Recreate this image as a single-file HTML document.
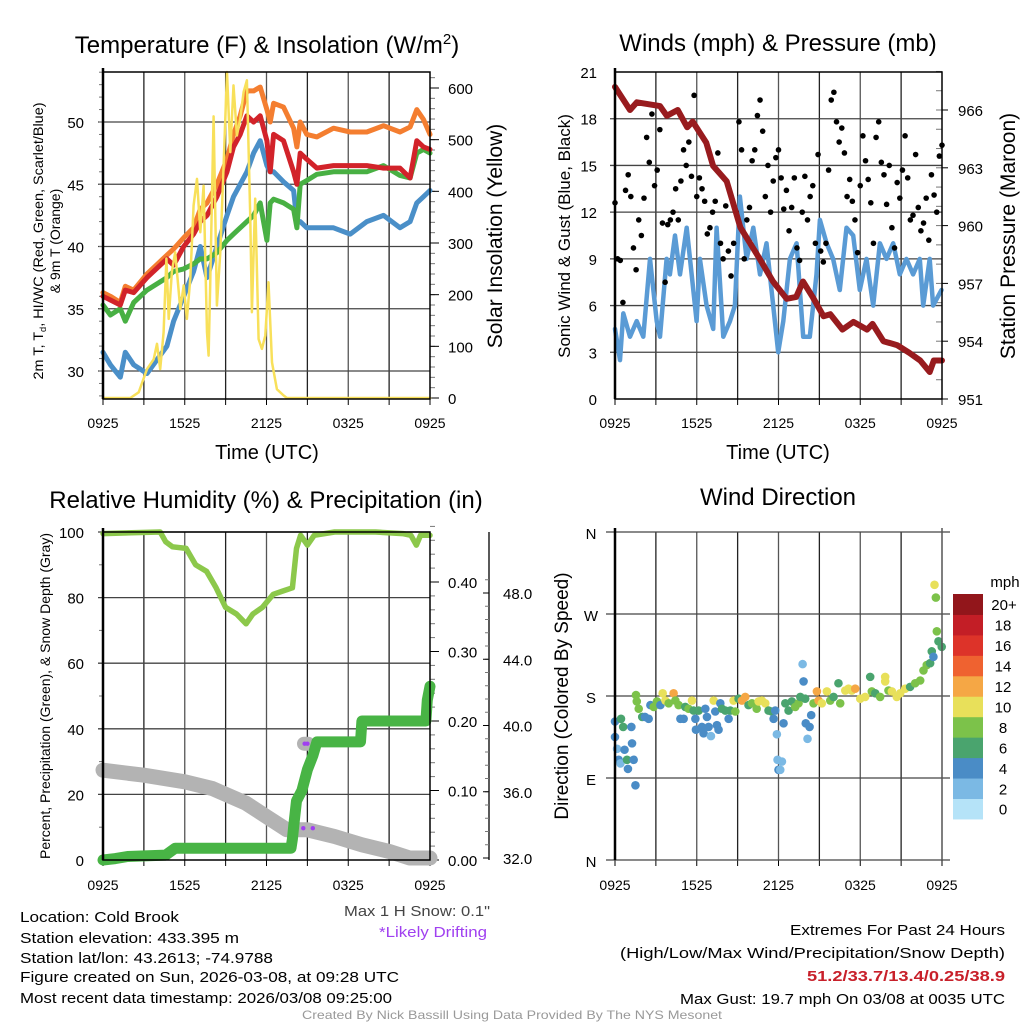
<!DOCTYPE html>
<html><head><meta charset="utf-8"><title>Cold Brook Meteogram</title>
<style>
html,body{margin:0;padding:0;background:#fff;width:1024px;height:1024px;overflow:hidden}
svg{display:block;font-family:"Liberation Sans",sans-serif}
</style></head>
<body>
<svg id="fig" width="1024" height="1024" viewBox="0 0 1024 1024" xmlns="http://www.w3.org/2000/svg">
<rect width="1024" height="1024" fill="#fff"/>
<text x="267" y="53" font-size="24" text-anchor="middle">Temperature (F) &amp; Insolation (W/m<tspan font-size="15" dy="-9">2</tspan><tspan dy="9">)</tspan></text>
<text x="778" y="51" font-size="24" text-anchor="middle">Winds (mph) &amp; Pressure (mb)</text>
<text x="266" y="508" font-size="24" text-anchor="middle">Relative Humidity (%) &amp; Precipitation (in)</text>
<text x="778" y="505" font-size="24" text-anchor="middle">Wind Direction</text>
<text transform="translate(43,241) rotate(-90)" font-size="14" text-anchor="middle" textLength="277" lengthAdjust="spacingAndGlyphs">2m T, T<tspan font-size="9" dy="3">d</tspan><tspan dy="-3">, HI/WC (Red, Green, Scarlet/Blue)</tspan></text>
<text transform="translate(60,241) rotate(-90)" font-size="14" text-anchor="middle">&amp; 9m T (Orange)</text>
<text transform="translate(502,236) rotate(-90)" font-size="21" text-anchor="middle">Solar Insolation (Yellow)</text>
<text x="267" y="459" font-size="20" text-anchor="middle">Time (UTC)</text>
<text x="778" y="459" font-size="20" text-anchor="middle">Time (UTC)</text>
<text transform="translate(570,236) rotate(-90)" font-size="17" text-anchor="middle">Sonic Wind &amp; Gust (Blue, Black)</text>
<text transform="translate(1015,236) rotate(-90)" font-size="21" text-anchor="middle">Station Pressure (Maroon)</text>
<text transform="translate(50,696) rotate(-90)" font-size="14" text-anchor="middle">Percent, Precipitation (Green), &amp; Snow Depth (Gray)</text>
<text transform="translate(568,696) rotate(-90)" font-size="19" text-anchor="middle">Direction (Colored By Speed)</text>
<g font-size="15">
<text x="20" y="922" textLength="159" lengthAdjust="spacingAndGlyphs">Location: Cold Brook</text>
<text x="20" y="943" textLength="219" lengthAdjust="spacingAndGlyphs">Station elevation: 433.395 m</text>
<text x="20" y="963" textLength="253" lengthAdjust="spacingAndGlyphs">Station lat/lon: 43.2613; -74.9788</text>
<text x="20" y="982" textLength="379" lengthAdjust="spacingAndGlyphs">Figure created on Sun, 2026-03-08, at 09:28 UTC</text>
<text x="20" y="1003" textLength="372" lengthAdjust="spacingAndGlyphs">Most recent data timestamp: 2026/03/08 09:25:00</text>
</g>
<text x="344" y="916" font-size="15" fill="#444" textLength="146" lengthAdjust="spacingAndGlyphs">Max 1 H Snow: 0.1"</text>
<text x="379" y="937" font-size="15" fill="#a040f0" textLength="108" lengthAdjust="spacingAndGlyphs">*Likely Drifting</text>
<g font-size="15" text-anchor="end">
<text x="1005" y="935" textLength="215" lengthAdjust="spacingAndGlyphs">Extremes For Past 24 Hours</text>
<text x="1005" y="958" textLength="385" lengthAdjust="spacingAndGlyphs">(High/Low/Max Wind/Precipitation/Snow Depth)</text>
<text x="1005" y="981" fill="#c8202a" font-weight="bold" textLength="198" lengthAdjust="spacingAndGlyphs">51.2/33.7/13.4/0.25/38.9</text>
<text x="1005" y="1004" textLength="325" lengthAdjust="spacingAndGlyphs">Max Gust: 19.7 mph On 03/08 at 0035 UTC</text>
</g>
<text x="512" y="1019" font-size="12" fill="#999" text-anchor="middle" textLength="420" lengthAdjust="spacingAndGlyphs">Created By Nick Bassill Using Data Provided By The NYS Mesonet</text>
<g id="plots"></g>
</svg>
<script>
const timeLabels = ["0925","1525","2125","0325","0925"];
const tempTimes = [0,.54,1.27,1.64,2.25,3.23,4.69,5.18,5.92,6.65,7.14,7.63,8.36,9.1,9.58,10.07,10.56,11.05,11.54,12.03,12.27,12.52,13.25,13.99,14.23,14.47,14.96,15.7,16.92,18.14,19.36,20.59,21.8,22.54,23.03,23.52,24];
const temp2m = [36,35.7,35.3,36.5,36.3,37.5,39,38.5,40,41,42,42.5,44,46,48,49,50.5,50,50.5,48.5,46,49,48.5,46,45,47.5,47,46.3,46.5,46.5,46.5,46.3,46.3,45.5,48.5,48,47.8];
const temp9m = [36.3,36,35.5,36.8,36.5,37.8,39.3,39.8,40.7,41.5,43,43.5,45,47,49,50.5,52.5,52.5,52.8,51,50,51.5,51.2,49.5,48,50,49,48.8,49.5,49.2,49.2,49.7,49.2,49.6,51,50.2,49];
const dewpoint = [35.3,34.5,35,34,35.5,36.5,37.5,38,38.2,38.6,39,39,39.5,40.5,41,41.5,42,42.5,43.5,40.5,43.5,43.8,43.5,43,41.5,45,45.3,45.8,46,46,46,46.5,45.7,45.5,47.5,47.8,47.5];
const windChill = [31.5,30.5,29.5,31.5,30.5,29.8,32,34,36,38,40,37.5,40,42.5,44,45,46,47.5,48.5,46.5,46,46,45.2,44.5,42,42,41.5,41.5,41.5,41,42,42.5,41.5,42,43.5,44,44.5];
const solarTimes = [0,2,2.62,3.23,3.72,3.96,4.2,4.45,4.65,4.82,5.06,5.3,5.67,5.92,6.16,6.41,6.65,6.9,7.14,7.38,7.63,7.75,7.87,8.12,8.36,8.61,8.85,9.1,9.34,9.58,9.83,10.07,10.32,10.56,10.81,10.93,11.17,11.42,11.66,11.91,12.15,12.4,12.76,13.25,13.5,24];
const solarValues = [0,0,11,56,75,105,56,127,270,153,245,282,172,218,153,231,373,424,321,411,127,82,218,545,179,282,450,631,476,605,508,540,592,615,347,166,386,114,95,121,224,69,17,5,0,0];
const tempTicks = [30,35,40,45,50];
const solarTicks = [0,100,200,300,400,500,600];
const windTimes = [0,0.37,0.61,1.1,1.59,2.08,2.57,3.06,3.3,3.79,4.03,4.4,4.77,5.26,5.75,5.99,6.23,6.72,7.21,7.46,7.95,8.44,8.8,9.17,9.66,10.15,10.64,11.12,11.61,11.98,12.35,12.84,13.33,13.81,14.3,14.79,15.04,15.53,16.01,16.5,16.99,17.48,17.97,18.46,18.95,19.44,19.93,20.42,20.9,21.39,21.88,22.37,22.62,23.1,23.35,23.96];
const windSpeed = [4.5,2.5,5.5,4,5,4,9,5,4,9,8,10.5,8,11,7,5,9,6,4.5,11,4,5,6,13,9,11,8,10,6,3,5,9,10,4,4,8,11.5,10,9,7,11,10.5,7,9,6,10,9,10,8,9,8,9,6,9,6,7];
const gustValues = [12.6,9,8.9,6.2,13.4,14.4,13,9.7,8.3,11.5,10.5,12.9,16.8,15.2,18.3,13.7,14.7,17.3,11.3,7.5,11.2,11.5,12,13.5,11.5,14,16,15,16.5,14.3,19.5,13,14.2,13.5,12.7,10.6,11,12,12.7,15.8,10,9,12.4,9.5,7.9,10,12,17.8,16,9,11.5,12.3,15.3,16,18.2,19.2,17.2,13,15,12,14,15.5,16,14.2,12.2,13.4,10.8,12.3,14.2,9.7,8.9,12,14.3,11.5,13,13.7,10,15.7,9.5,8.8,10,14.7,19.2,19.7,17.8,16.5,17.4,15.8,13,14.1,12.7,11.5,9.4,13.7,16.9,15.3,14.1,12.6,10,16.8,17.8,15.2,14.4,12.5,15,11,9.7,13.9,12.9,14.7,16.9,14.2,11.5,11.8,15.7,12.3,10.8,11.3,12.9,10.2,14.4,13.1,12,15.6,16.3];
const pressTimes = [0,1.1,1.6,3.3,3.8,4.6,5.3,5.7,6.7,7.2,8.2,9.2,9.9,10.6,11.6,12.6,13.3,13.8,14.5,15.3,15.8,16.7,17.5,18.5,18.9,19.7,20.7,21.6,22.4,23.1,23.4,24];
const pressValues = [967.2,966.0,966.4,966.2,965.7,966.0,965.1,965.4,964.3,963.1,962.3,959.9,959.1,958.3,957.1,956.2,956.3,957.1,956.3,955.3,955.4,954.6,955.0,954.6,954.9,954.0,953.8,953.4,953.0,952.4,953.0,953.0];
const windTicks = [0,3,6,9,12,15,18,21];
const pressTicks = [951,954,957,960,963,966];
const rhTimes = [0,4.2,4.6,5.1,6.1,6.8,7.6,8.3,9,9.8,10.5,11,11.7,12.5,13.2,13.9,14.2,14.5,15,15.5,17,20,22,22.6,23,23.3,24];
const rhValues = [99.5,100,97,95.5,95,90,88,83,77,75,72,75,77,81,82,83,95,99,96,99,100,100,99.5,99,96,99,99];
const precipTimes = [0,0.9,1.8,4.6,5.3,13.8,13.9,14.0,14.2,14.6,15.0,15.4,15.7,18.9,19.0,23.7,23.8,24];
const precipValues = [0,0.002,0.005,0.007,0.017,0.017,0.03,0.05,0.085,0.1,0.13,0.15,0.17,0.17,0.2,0.2,0.23,0.25];
const snowTimes = [0,3,6,8,10.5,12,13.5,15,17,19,21,22.5,24];
const snowValues = [37.3,37.0,36.6,36.2,35.3,34.5,33.7,33.7,33.3,32.8,32.4,32.0,32.0];
const snowSpikeTimes = [14.75,15.05];
const snowSpikeValues = [38.9,38.9];
const driftTimes = [14.8,15.0,14.7,15.4];
const driftValues = [38.9,38.9,33.8,33.8];
const rhTicks = [0,20,40,60,80,100];
const precipTicks = [0,0.1,0.2,0.3,0.4];
const snowTicks = [32,36,40,44,48];
const dirTimes = [0,0,0.15,0.27,0.4,0.44,0.6,0.7,0.88,0.95,1.2,1.25,1.37,1.5,1.54,1.6,1.74,2,2.2,2.47,2.6,2.84,3.08,3.33,3.5,3.7,3.94,4.3,4.43,4.67,4.8,5.04,5.16,5.4,5.65,5.77,5.9,5.94,6.14,6.38,6.5,6.63,6.75,6.87,7.04,7.24,7.36,7.48,7.6,7.73,7.85,8.1,8.34,8.46,8.7,8.83,9.07,9.32,9.56,9.8,10.05,10.4,10.54,10.78,11.03,11.27,11.5,11.64,11.76,11.88,11.93,12,12.13,12.25,12.37,12.5,12.74,12.98,13.23,13.47,13.6,13.77,13.84,13.96,14,14.13,14.28,14.4,14.57,14.82,14.94,15.18,15.55,15.8,16.04,16.4,16.53,16.9,17.14,17.38,17.63,18,18.36,18.73,18.85,19.1,19.46,19.83,19.83,20.07,20.32,20.68,20.93,21.3,21.66,22.03,22.4,22.64,22.88,23.13,23.25,23.37,23.45,23.55,23.62,23.74,23.98];
const dirValues = [152,135,122,110,106,155,146,121,110,100,146,128,110,82,181,174,166,157,157,155,170,168,174,170,183,175,172,183,175,170,155,155,168,166,175,164,155,143,164,146,139,166,157,146,136,175,163,148,143,172,166,164,155,164,175,163,177,175,179,170,172,166,174,175,172,164,163,155,164,138,110,99,99,108,150,172,164,174,168,172,179,215,196,177,150,133,146,159,172,185,175,172,185,175,179,194,172,186,188,186,188,177,179,201,185,183,179,196,201,186,185,179,183,188,190,194,197,208,214,216,229,223,302,288,251,240,234];
const dirSpeeds = [4.5,4.5,2.5,4.5,2.5,6.5,6.5,4.5,6.5,4.5,4.5,4.5,4.5,4.5,8.5,8.5,8.5,6.5,4.5,4.5,4.5,8.5,8.5,4.5,10.5,10.5,8.5,12.5,8.5,8.5,4.5,4.5,6.5,8.5,10.5,6.5,4.5,4.5,6.5,4.5,4.5,4.5,4.5,4.5,2.5,10.5,4.5,4.5,4.5,4.5,6.5,6.5,4.5,6.5,10.5,8.5,6.5,12.5,12.5,6.5,8.5,8.5,10.5,10.5,10.5,6.5,6.5,4.5,4.5,2.5,2.5,4.5,2.5,2.5,4.5,6.5,6.5,6.5,8.5,8.5,6.5,2.5,4.5,6.5,4.5,2.5,4.5,4.5,8.5,12.5,12.5,10.5,10.5,8.5,6.5,6.5,8.5,10.5,10.5,10.5,12.5,10.5,10.5,6.5,8.5,6.5,8.5,10.5,10.5,8.5,10.5,10.5,10.5,10.5,6.5,8.5,8.5,8.5,8.5,6.5,6.5,4.5,10.5,8.5,8.5,6.5,6.5];
const dirTicks = [0,90,180,270,360];
const dirTickLabels = ["N","E","S","W","N"];
const speedBins = ["0","2","4","6","8","10","12","14","16","18","20+"];
const speedColors = ["#b5e3f8","#7bb9e4","#4a8cc6","#4aa46e","#7cc24a","#e8e05a","#f5a745","#ef6230","#dd3329","#c31e26","#92161b"];

const NS = "http://www.w3.org/2000/svg";
const root = document.getElementById('plots');
function mk(tag, attrs, parent){
  const el = document.createElementNS(NS, tag);
  for (const k in attrs) el.setAttribute(k, attrs[k]);
  (parent||root).appendChild(el);
  return el;
}
function lin(d0,d1,r0,r1){ return v => r0 + (v-d0)*(r1-r0)/(d1-d0); }
function linePath(ts, vs, sx, sy){
  return ts.map((t,i)=>(i?'L':'M')+sx(t).toFixed(1)+' '+sy(vs[i]).toFixed(1)).join(' ');
}
function addText(x,y,str,size,anchor,name,fill){
  const el = mk('text',{x:x,y:y,'font-size':size,'text-anchor':anchor||'middle',fill:fill||'#000'});
  el.textContent = str;
  
  
  return el;
}
function timeAxis(x0,x1,yb,yt,labelY,prefix){
  const sx = lin(0,24,x0,x1);
  for (let h=3; h<24; h+=3){
    const g = mk('line',{x1:sx(h),x2:sx(h),y1:yt,y2:yb,stroke:(h%6===0)?'#555':'#222','stroke-width':1.3});
    
    
  }
  for (let h=0; h<=24; h+=3){
    const tk = mk('line',{x1:sx(h),x2:sx(h),y1:yb,y2:yb+6,stroke:'#000','stroke-width':1});
    
    
  }
  timeLabels.forEach((l,i)=>{ addText(sx(i*6),labelY,l,14,'middle',prefix+'-x-tick-label'); });
  return sx;
}
function frame(x0,x1,yt,yb,prefix){
  const r = mk('rect',{x:x0,y:yt,width:x1-x0,height:yb-yt,fill:'none',stroke:'#000','stroke-width':1.5});
  
  
  const l = mk('line',{x1:x0,x2:x0,y1:yt-4,y2:yb,stroke:'#000','stroke-width':2.5});
  
  
}
function hgrid(x0,x1,sy,ticks,prefix,ext){
  ticks.forEach(v=>{
    const g = mk('line',{x1:x0-(ext||0),x2:x1,y1:sy(v),y2:sy(v),stroke:'#444','stroke-width':1.3});
    
    
  });
}
function minorTicks(x,sy,from,to,step,len,prefix){
  for (let v=from; v<=to+1e-9; v+=step){
    const t = mk('line',{x1:x,x2:x+len,y1:sy(v),y2:sy(v),stroke:'#777','stroke-width':1});
    
    
  }
}
function series(ts,vs,sx,sy,color,w,name){
  const p = mk('path',{d:linePath(ts,vs,sx,sy),fill:'none',stroke:color,'stroke-width':w,'stroke-linejoin':'round','stroke-linecap':'round'});
  
  
  return p;
}

(function(){
  const x0=103,x1=430,yt=72,yb=399;
  const sy = lin(30,50,371,122);
  const sySolar = lin(0,600,398,88);
  const sx = timeAxis(x0,x1,yb,yt,428,'temperature');
  hgrid(x0,x1,sy,tempTicks,'temperature',5);
  minorTicks(x0-4,sy,28,54,1,4,'temperature-left');
  minorTicks(x1,sySolar,0,620,20,5,'insolation-right');
  tempTicks.forEach(v=>addText(84,sy(v)+6,String(v),15,'end','temperature-y-tick-label'));
  solarTicks.forEach(v=>{
    const t = mk('line',{x1:x1,x2:x1+9,y1:sySolar(v),y2:sySolar(v),stroke:'#000','stroke-width':1});
    
    
    addText(448,sySolar(v)+6,String(v),15,'start','insolation-y-tick-label');
  });
  series(tempTimes,windChill,sx,sy,'#4a8fc8',5,'windchill-line');
  series(tempTimes,dewpoint,sx,sy,'#48b043',5,'dewpoint-line');
  series(tempTimes,temp9m,sx,sy,'#f47e30',5,'temperature-9m-line');
  series(tempTimes,temp2m,sx,sy,'#d2232a',5,'temperature-2m-line');
  series(solarTimes,solarValues,sx,sySolar,'#f8e05a',2.5,'solar-insolation-line');
  frame(x0,x1,yt,yb,'temperature');
})();

(function(){
  const x0=615,x1=942,yt=72,yb=399;
  const sy = lin(0,21,399,72);
  const syP = lin(951,966,399,110);
  const sx = timeAxis(x0,x1,yb,yt,428,'wind');
  hgrid(x0,x1,sy,windTicks.slice(1,7),'wind',5);
  windTicks.forEach(v=>addText(597,sy(v)+6,String(v),15,'end','wind-y-tick-label'));
  minorTicks(x1,syP,951,968,1,-6,'pressure-right');
  pressTicks.forEach(v=>{
    const t = mk('line',{x1:x1,x2:x1+6,y1:syP(v),y2:syP(v),stroke:'#000','stroke-width':1});
    
    
    addText(958,syP(v)+6,String(v),15,'start','pressure-y-tick-label');
  });
  series(windTimes,windSpeed,sx,sy,'#5a9bd5',4.5,'sonic-wind-line');
  gustValues.forEach((v,i)=>{
    const t = i*24/(gustValues.length-1);
    const c = mk('circle',{cx:sx(t),cy:sy(v),r:2.8,fill:'#000'});
    
    
  });
  series(pressTimes,pressValues,sx,syP,'#981b1e',6,'pressure-line');
  frame(x0,x1,yt,yb,'wind');
})();

(function(){
  const x0=103,x1=430,yt=532,yb=860;
  const sy = lin(0,100,860,532);
  const syPr = lin(0,0.4,860,582);
  const syS = lin(32,48,858,593);
  const sx = timeAxis(x0,x1,yb,yt,890,'humidity');
  hgrid(x0,x1,sy,[20,40,60,80,100],'humidity',5);
  rhTicks.forEach(v=>addText(84,sy(v)+6,String(v),15,'end','humidity-y-tick-label'));
  minorTicks(x0-4,sy,10,90,20,4,'humidity-left');
  minorTicks(x1,syPr,0,0.48,0.02,5,'precip-right');
  precipTicks.forEach(v=>{
    const t = mk('line',{x1:x1,x2:x1+9,y1:syPr(v),y2:syPr(v),stroke:'#000','stroke-width':1});
    
    
    addText(448,syPr(v)+6,v.toFixed(2),15,'start','precip-y-tick-label');
  });
  const ax = mk('line',{x1:489,x2:489,y1:532,y2:860,stroke:'#000','stroke-width':1.3});
  
  
  minorTicks(489,syS,32,49.5,0.8,-4,'snow-axis');
  snowTicks.forEach(v=>{
    const t = mk('line',{x1:483,x2:489,y1:syS(v),y2:syS(v),stroke:'#000','stroke-width':1});
    
    
    addText(503,syS(v)+6,v.toFixed(1),15,'start','snow-y-tick-label');
  });
  series(snowTimes,snowValues,sx,syS,'#b3b3b3',15,'snow-depth-line');
  series(snowSpikeTimes,snowSpikeValues,sx,syS,'#b3b3b3',14,'snow-depth-spike');
  series(precipTimes,precipValues,sx,syPr,'#48b445',11,'precipitation-line');
  series(rhTimes,rhValues,sx,sy,'#8cc84b',5.5,'relative-humidity-line');
  driftTimes.forEach((t,i)=>{
    const c = mk('circle',{cx:sx(t),cy:syS(driftValues[i]),r:2.2,fill:'#a040f0'});
    
    
  });
  frame(x0,x1,yt,yb,'humidity');
})();

(function(){
  const x0=615,x1=942,yt=532,yb=860;
  const sy = lin(0,360,860,532);
  const sx = timeAxis(x0,x1,yb,yt,890,'direction');
  hgrid(x0,x1+8,sy,dirTicks,'direction',9);
  dirTicks.forEach((v,i)=>addText(591,sy(v)+7,dirTickLabels[i],15,'middle','direction-y-tick-label'));
  dirTimes.forEach((t,i)=>{
    const bin = Math.min(10, Math.floor(dirSpeeds[i]/2));
    const c = mk('circle',{cx:sx(t),cy:sy(dirValues[i]),r:4.3,fill:speedColors[bin]});
    
    
  });
  const l = mk('line',{x1:x0,x2:x0,y1:yt-4,y2:yb,stroke:'#000','stroke-width':2.5});
  
  
  const r = mk('line',{x1:x1,x2:x1,y1:yt-4,y2:yb,stroke:'#555','stroke-width':1.5});
  
  
  const bh = 20.45, cbTop = 594;
  speedBins.forEach((lab,i)=>{
    const k = speedBins.length-1-i;
    const y = cbTop + k*bh;
    const b = mk('rect',{x:953,y:y,width:30,height:bh+0.5,fill:speedColors[i]});
    
    
    addText(lab.length>2?1004:1003,y+bh/2+6,lab,15,'middle','colorbar-label');
  });
  addText(1005,587,'mph',15,'middle','colorbar-unit-label');
})();
</script>
</body></html>
